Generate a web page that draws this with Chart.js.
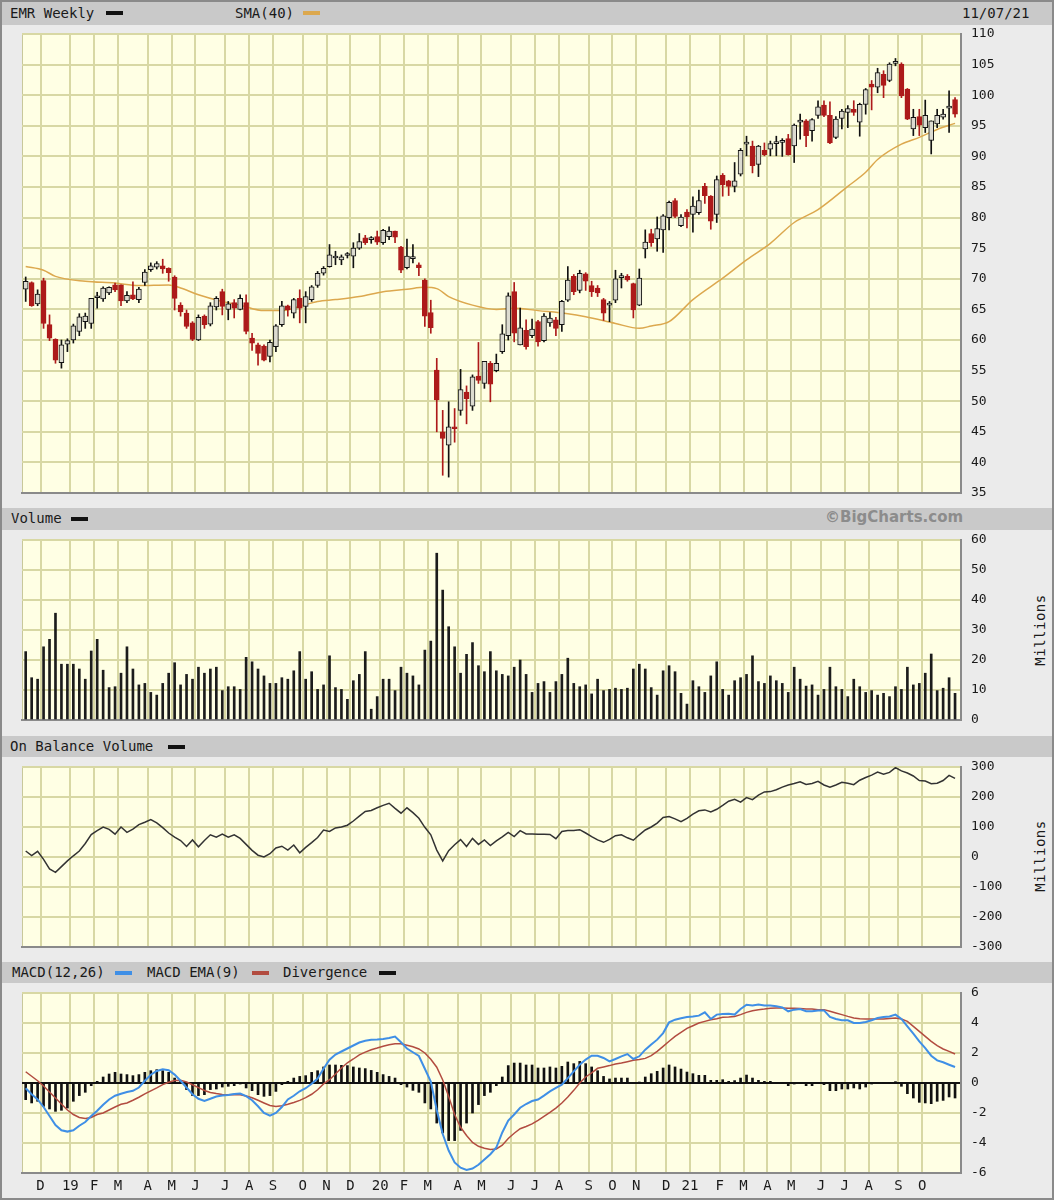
<!DOCTYPE html>
<html>
<head>
<meta charset="utf-8">
<script src="https://cdn.jsdelivr.net/npm/chart.js@4.4.1/dist/chart.umd.min.js"></script>
<style>
  body { margin: 0; background: #fff; }
  #page { position: relative; width: 1054px; height: 1200px; background: #ebebeb;
          box-shadow: inset 0 0 0 2px #8a8a8a; overflow: hidden;
          font-family: 'DejaVu Sans Mono', monospace; color: #1a1a1a; }
  .strip { position: absolute; left: 2px; width: 1050px; background: #c9c9c9; }
  .lbl { position: absolute; font-size: 14px; white-space: nowrap; }
  .sw { position: absolute; width: 17px; height: 4px; }
  canvas { position: absolute; left: 0; }
  .mil { position: absolute; font-size: 14px; letter-spacing: 0.5px; transform: rotate(-90deg); transform-origin: center; width: 80px; text-align: center; }
</style>
</head>
<body>
<div id="page">
  <div class="strip" style="top:2px;height:23px"></div>
  <div class="lbl" style="left:10px;top:5px">EMR Weekly</div>
  <div class="sw" style="left:106px;top:11px;background:#111"></div>
  <div class="lbl" style="left:235px;top:5px">SMA(40)</div>
  <div class="sw" style="left:303px;top:11px;background:#dca84e"></div>
  <div class="lbl" style="left:962px;top:5px">11/07/21</div>

  <div class="strip" style="top:508px;height:22px"></div>
  <div class="lbl" style="left:11px;top:510px">Volume</div>
  <div class="sw" style="left:71px;top:517px;background:#111"></div>
  <div class="lbl" style="left:825px;top:508px;font-family:'DejaVu Sans',sans-serif;font-weight:bold;font-size:15px;color:#8c8c8c">©BigCharts.com</div>

  <div class="strip" style="top:736px;height:21px"></div>
  <div class="lbl" style="left:10px;top:738px">On Balance Volume</div>
  <div class="sw" style="left:168px;top:745px;background:#111"></div>

  <div class="strip" style="top:962px;height:21px"></div>
  <div class="lbl" style="left:12px;top:964px">MACD(12,26)</div>
  <div class="sw" style="left:115px;top:971px;background:#3f8fe6"></div>
  <div class="lbl" style="left:147px;top:964px">MACD EMA(9)</div>
  <div class="sw" style="left:252px;top:971px;background:#b24c40"></div>
  <div class="lbl" style="left:283px;top:964px">Divergence</div>
  <div class="sw" style="left:379px;top:971px;background:#111"></div>

  <div class="mil" style="left:1000px;top:622px">Millions</div>
  <div class="mil" style="left:1000px;top:848px">Millions</div>

  <canvas id="cPrice" width="1054" height="480" style="top:26px"></canvas>
  <canvas id="cVol" width="1054" height="205" style="top:531px"></canvas>
  <canvas id="cObv" width="1054" height="203" style="top:758px"></canvas>
  <canvas id="cMacd" width="1054" height="214" style="top:984px"></canvas>
</div>
<script>
// weekly bars, one per week from Nov 2018 to 11/07/21
const opens = [68.3,69.4,65.9,69.7,62.5,60.1,56.3,59.3,60.0,61.4,
  63.0,62.7,66.9,66.7,67.7,69.0,69.0,66.4,67.4,66.6,
  69.4,71.5,71.9,72.1,71.7,70.3,65.7,64.4,62.8,60.0,
  63.9,62.6,65.4,67.9,65.0,66.1,65.0,66.1,60.3,59.2,
  59.0,57.3,58.9,62.5,65.6,64.4,66.8,65.5,66.6,68.9,
  70.9,72.0,73.4,73.1,73.8,73.7,75.0,76.7,76.4,76.9,
  75.9,76.9,77.8,75.2,71.8,73.3,72.3,69.8,64.5,55.1,
  45.0,42.8,45.8,48.5,51.5,49.2,54.1,52.9,56.2,55.0,
  58.1,60.7,67.9,59.2,61.6,60.7,63.0,59.9,62.8,63.3,
  62.5,66.5,70.4,68.1,70.8,68.9,68.5,66.6,65.7,66.5,
  70.2,70.4,69.2,65.7,74.9,77.4,76.5,78.0,80.0,82.8,
  78.7,80.9,80.5,80.8,85.1,83.5,80.5,86.9,86.0,85.1,
  87.1,92.0,91.7,88.7,91.0,91.2,92.1,92.3,92.9,91.7,
  95.6,95.8,94.2,96.7,98.4,96.7,93.1,96.2,97.2,97.7,
  95.6,98.5,101.8,101.3,103.4,102.4,105.2,105.1,101.0,94.5,
  96.5,94.7,92.6,95.3,96.4,97.9,99.3];
const highs = [70.3,69.5,68.2,70.1,64.1,60.2,60.0,60.2,62.6,64.3,
  64.4,66.8,67.8,68.7,68.7,69.3,69.0,67.9,69.5,68.6,
  71.5,72.6,72.8,73.2,71.8,70.5,66.1,64.9,63.0,64.1,
  64.1,66.1,67.1,68.3,66.3,66.6,67.4,67.4,61.1,59.5,
  59.2,60.0,62.5,66.3,65.7,66.8,68.2,67.9,68.9,71.2,
  72.0,75.6,74.5,73.9,74.3,75.9,77.4,77.1,76.9,77.8,
  78.1,78.5,77.8,75.3,76.5,75.6,72.6,70.0,66.5,57.0,
  48.5,49.9,48.8,55.2,52.5,54.3,59.6,56.5,56.5,57.7,
  62.5,67.7,69.4,65.2,63.3,63.4,63.2,64.3,64.5,63.7,
  66.5,72.0,70.7,71.4,71.0,69.6,68.9,66.8,66.3,71.4,
  70.9,70.7,69.3,71.6,78.0,78.1,80.1,80.5,82.7,83.1,
  80.5,81.3,83.4,84.5,85.6,83.6,86.8,87.2,86.1,89.0,
  91.3,93.3,92.5,91.8,92.2,92.5,93.3,92.9,93.6,95.3,
  96.9,96.0,96.2,99.1,99.1,98.9,96.5,97.7,98.3,99.1,
  98.7,101.1,102.4,104.4,104.0,105.3,106.0,105.3,101.1,97.7,
  97.7,99.2,95.8,97.7,97.7,100.7,99.6];
const lows = [66.3,65.5,65.6,61.9,59.9,56.2,55.4,58.1,59.5,60.7,
  61.9,61.9,65.2,66.3,67.4,67.9,65.6,66.1,66.6,66.1,
  68.9,71.2,71.6,70.9,69.6,64.9,63.9,61.9,59.9,59.9,
  61.9,62.3,64.9,64.1,63.3,63.6,64.9,61.0,58.3,55.9,
  56.6,56.4,58.1,62.2,63.9,63.6,62.8,62.8,66.3,68.6,
  70.6,71.9,72.3,72.3,73.4,71.8,74.8,75.6,75.8,75.6,
  75.6,76.4,75.9,71.0,71.6,72.6,70.5,62.2,61.1,45.0,
  37.9,37.6,43.3,47.7,46.3,48.5,52.9,52.1,49.9,54.8,
  57.8,60.0,59.7,59.2,58.5,60.4,59.0,59.7,62.2,60.7,
  61.4,66.3,67.4,67.7,68.1,67.1,67.1,63.2,63.0,66.1,
  68.5,69.6,63.6,65.6,73.4,75.3,74.5,74.3,78.0,80.0,
  78.5,78.3,77.6,80.5,82.3,78.1,79.2,83.5,83.6,84.2,
  86.8,90.1,87.3,86.7,90.1,90.1,90.1,90.0,90.2,89.0,
  92.8,91.6,92.5,96.2,96.5,92.1,92.9,94.5,94.7,96.7,
  93.3,96.9,97.6,100.4,99.6,102.2,104.8,99.6,96.0,93.4,
  93.4,93.9,90.4,94.7,96.1,93.9,96.4];
const closes = [69.6,65.6,67.5,62.7,60.3,56.7,59.2,59.9,62.3,63.8,
  63.9,66.8,67.1,68.5,68.6,68.2,66.4,67.3,66.7,68.3,
  71.1,72.1,72.5,71.6,71.0,66.8,64.6,62.2,60.1,63.7,
  62.5,65.6,66.8,65.5,65.9,65.2,66.8,61.4,59.5,57.8,
  56.7,59.6,62.3,65.6,64.9,66.6,65.2,67.1,68.7,70.9,
  71.7,73.9,73.6,73.6,73.9,75.0,76.1,75.9,76.5,76.0,
  77.9,77.8,76.8,71.4,73.7,73.5,71.8,63.9,62.0,50.2,
  43.9,45.8,45.5,51.9,50.4,54.0,53.4,56.5,52.8,56.2,
  61.0,67.2,61.1,62.0,58.9,61.8,59.7,63.9,63.6,61.9,
  66.3,69.8,67.9,70.9,69.6,67.9,67.7,64.4,65.8,70.0,
  70.3,69.8,64.9,70.1,76.0,75.9,78.2,80.3,82.5,80.2,
  80.1,80.1,81.9,82.8,83.6,79.4,86.2,85.4,85.1,86.0,
  91.0,92.2,88.5,91.7,90.3,92.1,92.2,92.4,90.3,95.1,
  95.75,93.4,96.0,98.1,96.7,92.2,96.1,97.4,97.8,97.2,
  98.5,100.9,101.3,103.7,101.6,105.1,105.3,99.9,96.1,96.4,
  95.1,96.7,95.8,96.7,96.9,98.0,96.9];

// SMA(40) at these bars
const smaIdx = [0,3,5,10,15,19,24,26,29,33,36,40,43,46,49,52,56,60,64,67,69,71,75,79,82,86,91,94,99,103,105,108,112,117,121,125,129,133,138,141,143,147,150,153,156];
const smaVal = [72.0,71.4,70.4,69.6,69.3,68.9,69.0,68.5,67.4,66.3,65.7,64.8,64.8,65.5,66.3,66.6,67.1,67.9,68.3,68.6,68.4,67.1,65.7,65.0,65.2,64.8,64.3,63.8,62.7,61.9,62.3,63.0,66.6,70.1,73.1,75.8,79.2,81.3,85.1,87.4,89.5,92.0,93.1,94.4,95.4];

// volume, millions
const volume = [22.8,14.1,13.6,24.4,26.9,35.6,18.6,18.6,18.6,17.0,
  13.6,23.0,26.9,16.6,10.8,11.1,15.6,24.4,17.0,11.7,
  12.2,9.2,8.3,12.2,15.6,19.1,11.7,15.2,13.6,17.6,
  15.6,17.0,17.6,9.8,11.1,11.1,10.2,20.9,19.4,17.0,
  14.7,12.2,12.2,14.1,13.6,16.4,22.8,13.6,16.1,10.2,
  11.7,21.4,10.8,10.2,6.9,13.1,15.2,22.8,3.6,7.8,
  13.6,13.6,9.8,17.6,15.6,14.7,11.7,23.3,26.3,55.6,
  43.3,31.1,24.4,15.6,21.9,25.8,18.1,16.1,22.8,16.4,
  15.2,14.7,17.6,20.0,15.2,9.2,12.2,12.8,9.2,12.8,
  15.2,20.6,12.2,11.1,11.7,8.7,13.6,9.8,10.2,10.6,
  10.2,10.6,17.0,18.6,17.0,10.8,8.3,16.4,18.1,16.1,
  8.9,5.3,13.1,11.1,9.2,14.7,19.4,10.2,8.3,13.1,
  14.1,15.2,21.4,12.8,12.2,14.7,13.1,12.2,9.2,17.6,
  13.6,11.3,11.7,8.3,10.2,17.6,11.1,10.2,7.8,13.6,
  11.1,9.2,9.8,8.3,8.9,7.8,11.1,10.2,17.6,11.7,
  12.2,15.6,22.0,9.8,10.6,14.1,8.9];

// on balance volume, millions
const obv = [20,5,19,-8,-40,-51,-32,-13,4,20,
  45,75,88,100,92,76,100,82,93,108,
  116,125,114,98,80,66,55,35,57,34,
  55,74,66,76,66,74,62,42,22,6,
  0,11,30,36,23,40,14,32,48,65,
  90,85,97,100,106,120,136,152,155,164,
  172,179,162,146,164,148,129,99,74,23,
  -13,21,41,58,35,62,42,57,38,54,
  67,82,68,88,77,77,76,76,75,61,
  85,88,88,91,80,68,57,49,59,71,
  74,64,56,74,90,100,113,132,135,127,
  118,129,143,154,157,150,159,172,186,192,
  183,198,191,206,217,218,224,233,240,245,
  251,242,245,252,240,233,240,249,246,241,
  256,265,273,283,276,282,298,287,280,270,
  255,253,244,246,255,272,262];

// MACD(12,26), its EMA(9) and the divergence bars
const macd = [-0.35,-0.75,-1.1,-1.6,-2.2,-2.8,-3.15,-3.24,-3.15,-2.85,
  -2.6,-2.2,-1.85,-1.45,-1.1,-0.85,-0.72,-0.6,-0.52,-0.3,
  0.15,0.55,0.8,0.92,0.85,0.56,0.15,-0.3,-0.75,-1.05,
  -1.2,-1.05,-0.9,-0.83,-0.8,-0.73,-0.7,-0.88,-1.15,-1.55,
  -2.0,-2.18,-2.0,-1.6,-1.1,-0.85,-0.55,-0.35,-0.05,0.3,
  0.95,1.55,1.9,2.1,2.3,2.5,2.7,2.82,2.88,2.9,
  2.93,3.0,3.1,2.72,2.3,2.05,1.8,0.95,0.1,-1.8,
  -3.4,-4.5,-5.3,-5.65,-5.8,-5.7,-5.45,-5.1,-4.75,-4.3,
  -3.3,-2.5,-2.1,-1.65,-1.4,-1.2,-1.1,-0.84,-0.56,-0.33,
  -0.11,0.33,0.78,1.22,1.56,1.82,1.82,1.67,1.44,1.6,
  1.78,1.93,1.6,1.78,2.22,2.56,2.89,3.33,4.04,4.22,
  4.31,4.4,4.44,4.49,4.71,4.27,4.56,4.6,4.62,4.56,
  4.93,5.22,5.16,5.24,5.16,5.16,5.11,5.04,4.78,4.89,
  4.93,4.78,4.78,4.84,4.84,4.4,4.27,4.18,4.18,4.0,
  4.0,4.07,4.18,4.33,4.4,4.44,4.56,4.27,3.78,3.29,
  2.78,2.33,1.82,1.51,1.38,1.22,1.07];
const macdEma = [0.75,0.45,0.15,-0.2,-0.6,-1.0,-1.4,-1.8,-2.1,-2.3,
  -2.36,-2.3,-2.1,-2.0,-1.8,-1.6,-1.42,-1.33,-1.15,-0.95,
  -0.72,-0.52,-0.33,-0.11,0.05,0.16,0.18,0.07,-0.12,-0.31,
  -0.5,-0.63,-0.7,-0.76,-0.78,-0.77,-0.78,-0.86,-0.98,-1.15,
  -1.33,-1.5,-1.56,-1.52,-1.42,-1.3,-1.16,-0.98,-0.75,-0.45,
  -0.06,0.22,0.6,1.0,1.35,1.6,1.88,2.06,2.22,2.33,
  2.45,2.55,2.62,2.62,2.52,2.42,2.27,2.0,1.58,1.05,
  0.2,-0.9,-2.1,-2.95,-3.5,-3.96,-4.22,-4.35,-4.44,-4.4,
  -4.15,-3.7,-3.35,-3.05,-2.9,-2.73,-2.49,-2.22,-1.96,-1.67,
  -1.33,-0.93,-0.49,0.0,0.4,0.67,0.98,1.07,1.16,1.27,
  1.33,1.42,1.51,1.56,1.64,1.82,2.11,2.44,2.78,3.11,
  3.38,3.64,3.82,4.0,4.11,4.22,4.29,4.38,4.4,4.44,
  4.56,4.71,4.82,4.89,4.93,4.98,5.0,5.0,4.98,4.98,
  4.96,4.93,4.93,4.89,4.89,4.78,4.67,4.56,4.44,4.33,
  4.29,4.27,4.27,4.27,4.27,4.3,4.33,4.27,4.11,3.78,
  3.44,3.11,2.78,2.49,2.27,2.11,1.93];
const divergence = [-1.11,-1.33,-1.22,-1.56,-1.73,-1.89,-1.82,-1.67,-1.22,-0.84,
  -0.62,-0.18,0.11,0.4,0.6,0.71,0.6,0.56,0.49,0.56,
  0.71,0.82,0.89,0.82,0.71,0.33,0.18,-0.44,-0.84,-0.84,
  -0.78,-0.44,-0.4,-0.27,-0.22,-0.18,-0.07,-0.33,-0.51,-0.78,
  -0.89,-0.84,-0.56,-0.11,0.11,0.33,0.44,0.49,0.71,0.82,
  1.07,1.2,1.2,1.18,1.16,1.07,1.0,0.96,0.84,0.71,
  0.56,0.44,0.33,-0.11,-0.27,-0.49,-0.62,-1.33,-1.73,-2.67,
  -3.33,-3.84,-3.84,-3.16,-2.67,-2.0,-1.44,-0.84,-0.62,-0.18,
  0.4,1.16,1.33,1.33,1.2,1.2,1.0,1.0,1.07,1.0,
  1.11,1.4,1.29,1.44,1.29,1.07,0.82,0.44,0.27,0.33,
  0.33,0.33,0.0,0.02,0.4,0.62,0.78,1.0,1.2,1.07,
  0.93,0.73,0.62,0.51,0.51,0.18,0.18,0.22,0.11,0.16,
  0.33,0.53,0.33,0.18,0.11,0.11,0.0,0.0,-0.18,-0.07,
  0.0,-0.18,-0.18,0.0,-0.11,-0.51,-0.51,-0.4,-0.4,-0.33,
  -0.4,-0.27,-0.07,0.0,0.0,0.0,0.09,-0.22,-0.71,-1.0,
  -1.29,-1.33,-1.38,-1.22,-1.16,-0.93,-1.0];

// month gridlines (bar position) and their labels
const monthIdx = [2.5,7.5,11.5,15.5,20.5,24.5,28.5,33.5,37.5,41.5,46.5,50.5,54.5,59.5,63.5,67.5,72.5,76.5,81.5,85.5,89.5,94.5,98.5,102.5,107.5,111.5,116.5,120.5,124.5,128.5,133.5,137.5,141.5,146.5,150.5];
const monthLbl = ['D','19','F','M','A','M','J','J','A','S','O','N','D','20','F','M','A','M','J','J','A','S','O','N','D','21','F','M','A','M','J','J','A','S','O'];

const GRID = '#d8d8a4';
const RED = '#ad1a1a';
const bars = opens.map((_, i) => i);
const down = bars.map(i => closes[i] < opens[i]);

Chart.defaults.font.family = "'DejaVu Sans Mono', monospace";
Chart.defaults.color = '#1a1a1a';

const bgPlugin = {
  id: 'bg',
  beforeDraw(c) {
    const a = c.chartArea, g = c.ctx;
    g.save();
    g.fillStyle = '#ffffe4';
    g.fillRect(a.left, a.top, a.right - a.left, a.bottom - a.top);
    g.strokeStyle = '#c8c89a';
    g.lineWidth = 1;
    g.beginPath();
    g.moveTo(a.left + 0.5, a.bottom);
    g.lineTo(a.left + 0.5, a.top);
    g.stroke();
    g.restore();
  }
};

function xAxis(showLabels) {
  return {
    type: 'linear', min: -0.62, max: 157, offset: false,
    afterBuildTicks: s => { s.ticks = monthIdx.map(v => ({ value: v })); },
    afterFit: s => { s.height = showLabels ? 25 : 0; },
    grid: { color: GRID, lineWidth: 2, drawTicks: false, offset: false },
    border: { display: true, color: '#8a8a8a', width: 2 },
    ticks: { display: showLabels, autoSkip: false, maxRotation: 0, padding: 5,
             font: { size: 14 }, callback: (v, k) => monthLbl[k] }
  };
}

// labels pushed right by a transparent tick mark, so no extra vertical padding
function yAxis(min, max, step, zeroDark) {
  return {
    position: 'right', min, max,
    afterFit: s => { s.width = 93; },
    afterBuildTicks: s => {
      const t = [];
      for (let v = min; v <= max + 1e-9; v += step) t.push({ value: Math.round(v * 1000) / 1000 });
      s.ticks = t;
    },
    grid: { color: c => (zeroDark && c.tick && c.tick.value === 0) ? '#111' : GRID, lineWidth: 2,
            drawTicks: true, tickLength: 10, tickColor: 'rgba(0,0,0,0)' },
    border: { display: true, color: '#8a8a8a', width: 2 },
    ticks: { padding: 0, autoSkip: false, font: { size: 13 } }
  };
}

function baseOptions(padTop, padBottom, showX, yCfg) {
  return {
    responsive: false, animation: false, devicePixelRatio: 1,
    layout: { padding: { left: 22, right: 0, top: padTop, bottom: padBottom } },
    plugins: { legend: { display: false }, tooltip: { enabled: false } },
    scales: { x: xAxis(showX), y: yCfg }
  };
}

new Chart(document.getElementById('cPrice'), {
  type: 'bar',
  data: {
    datasets: [
      { type: 'line', data: smaIdx.map((x, k) => ({ x, y: smaVal[k] })), borderColor: '#dca84e',
        borderWidth: 1.5, pointRadius: 0, cubicInterpolationMode: 'monotone', order: 3 },
      { data: bars.map(i => ({ x: i, y: [lows[i], highs[i]] })),
        backgroundColor: bars.map(i => down[i] ? RED : '#111'),
        barThickness: 1, grouped: false, order: 2 },
      { data: bars.map(i => ({ x: i, y: [opens[i], closes[i]] })),
        backgroundColor: bars.map(i => down[i] ? RED : '#dcdbd0'),
        borderColor: bars.map(i => down[i] ? RED : '#111'),
        borderWidth: 1, borderSkipped: false, barThickness: 5, minBarLength: 2,
        grouped: false, order: 1 }
    ]
  },
  options: baseOptions(8, 13, false, yAxis(35, 110, 5, false)),
  plugins: [bgPlugin]
});

new Chart(document.getElementById('cVol'), {
  type: 'bar',
  data: { datasets: [{ data: bars.map(i => ({ x: i, y: volume[i] })), backgroundColor: '#1c1c1c', barThickness: 2 }] },
  options: baseOptions(9, 16, false, yAxis(0, 60, 10, false)),
  plugins: [bgPlugin]
});

new Chart(document.getElementById('cObv'), {
  type: 'line',
  data: { datasets: [{ data: bars.map(i => ({ x: i, y: obv[i] })), borderColor: '#333', borderWidth: 1.5, pointRadius: 0 }] },
  options: baseOptions(9, 14, false, yAxis(-300, 300, 100, false)),
  plugins: [bgPlugin]
});

new Chart(document.getElementById('cMacd'), {
  type: 'bar',
  data: {
    datasets: [
      { data: bars.map(i => ({ x: i, y: divergence[i] })), backgroundColor: '#111', barThickness: 2, order: 3 },
      { type: 'line', data: bars.map(i => ({ x: i, y: macdEma[i] })), borderColor: '#b24c40', borderWidth: 1.5, pointRadius: 0, order: 2 },
      { type: 'line', data: bars.map(i => ({ x: i, y: macd[i] })), borderColor: '#3f8fe6', borderWidth: 2, pointRadius: 0, order: 1 }
    ]
  },
  options: baseOptions(9, 0, true, yAxis(-6, 6, 2, true)),
  plugins: [bgPlugin]
});
</script>
</body>
</html>
